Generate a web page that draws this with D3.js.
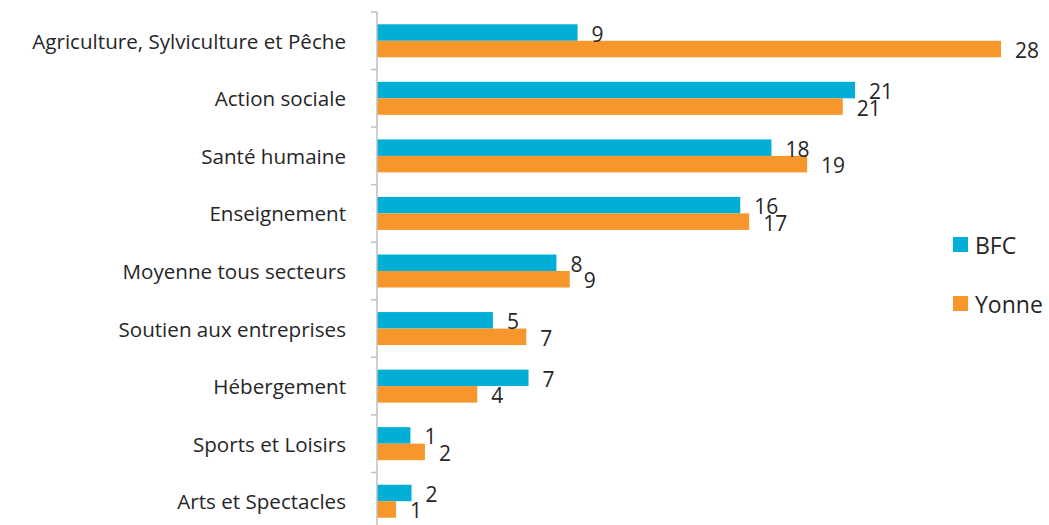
<!DOCTYPE html>
<html>
<head>
<meta charset="utf-8">
<script src="https://cdn.jsdelivr.net/npm/d3@7"></script>
<style>
  html, body { margin: 0; padding: 0; background: #fff; }
  svg { display: block; }
</style>
</head>
<body>
<svg id="chart" width="1049" height="525"></svg>
<script>
// categories, top to bottom
const categories = [
  'Agriculture, Sylviculture et Pêche',
  'Action sociale',
  'Santé humaine',
  'Enseignement',
  'Moyenne tous secteurs',
  'Soutien aux entreprises',
  'Hébergement',
  'Sports et Loisirs',
  'Arts et Spectacles'
];
const seriesNames = ['BFC', 'Yonne'];
// bar lengths and the labels printed next to them
const bfcValues = [9.0, 21.45, 17.7, 16.3, 8.05, 5.2, 6.8, 1.5, 1.55];
const yonneValues = [28.0, 20.9, 19.3, 16.7, 8.65, 6.7, 4.5, 2.15, 0.85];
const bfcLabels = ['9', '21', '18', '16', '8', '5', '7', '1', '2'];
const yonneLabels = ['28', '21', '19', '17', '9', '7', '4', '2', '1'];

const COLORS = { BFC: '#00AED6', Yonne: '#F7962B' };
const COLOR_AXIS = '#BFBFBF';
const COLOR_TEXT = '#262626';
const FONT = '"Open Sans", "Noto Sans", sans-serif';

const AXIS_X = 377;
const TOP = 12;
const BOTTOM = 530;
const X_MAX = 28;
const X_END = 1001;

const svg = d3.select('#chart');
const g = svg.append('g');

const x = d3.scaleLinear().domain([0, X_MAX]).range([AXIS_X, X_END]);
const y = d3.scaleBand().domain(categories).range([TOP, BOTTOM]).padding(0);
const ySub = d3.scaleBand().domain(seriesNames).range([0, y.bandwidth()])
  .paddingInner(0).paddingOuter(0.745);

const rows = categories.map((c, i) => ({
  cat: c,
  items: [
    { name: 'BFC', value: bfcValues[i], label: bfcLabels[i] },
    { name: 'Yonne', value: yonneValues[i], label: yonneLabels[i] }
  ]
}));

const groups = g.selectAll('g.row')
  .data(rows)
  .join('g')
  .attr('class', 'row')
  .attr('transform', d => `translate(0,${y(d.cat)})`);

groups.selectAll('rect')
  .data(d => d.items)
  .join('rect')
  .attr('x', x(0))
  .attr('y', d => ySub(d.name))
  .attr('width', d => x(d.value) - x(0))
  .attr('height', ySub.bandwidth())
  .attr('fill', d => COLORS[d.name]);

groups.selectAll('text.val')
  .data(d => d.items)
  .join('text')
  .attr('class', 'val')
  .attr('x', d => x(d.value) + 14)
  .attr('y', d => ySub(d.name) + ySub.bandwidth() / 2 + 1)
  .attr('dominant-baseline', 'central')
  .attr('font-family', FONT)
  .attr('font-size', 21)
  .attr('fill', COLOR_TEXT)
  .text(d => d.label);

// vertical axis with outer ticks between categories
const yAxis = g.append('g');
yAxis.append('line')
  .attr('x1', AXIS_X).attr('x2', AXIS_X)
  .attr('y1', TOP).attr('y2', BOTTOM)
  .attr('stroke', COLOR_AXIS)
  .attr('stroke-width', 1.5);

const tickYs = categories.map(c => y(c)).concat([BOTTOM]);
yAxis.selectAll('line.tick')
  .data(tickYs)
  .join('line')
  .attr('class', 'tick')
  .attr('x1', AXIS_X - 6).attr('x2', AXIS_X)
  .attr('y1', d => d).attr('y2', d => d)
  .attr('stroke', COLOR_AXIS)
  .attr('stroke-width', 1.5);

yAxis.selectAll('text.cat')
  .data(categories)
  .join('text')
  .attr('class', 'cat')
  .attr('x', 346)
  .attr('y', d => y(d) + y.bandwidth() / 2)
  .attr('text-anchor', 'end')
  .attr('dominant-baseline', 'central')
  .attr('font-family', FONT)
  .attr('font-size', 20.6)
  .attr('fill', COLOR_TEXT)
  .text(d => d);

// legend
const legend = g.append('g').attr('transform', 'translate(953,237)');
const legendItems = legend.selectAll('g')
  .data(seriesNames)
  .join('g')
  .attr('transform', (d, i) => `translate(0,${i * 59})`);
legendItems.append('rect')
  .attr('width', 15).attr('height', 15)
  .attr('fill', d => COLORS[d]);
legendItems.append('text')
  .attr('x', 22)
  .attr('y', 8)
  .attr('dominant-baseline', 'central')
  .attr('font-family', FONT)
  .attr('font-size', 23)
  .attr('fill', COLOR_TEXT)
  .text(d => d);
</script>
</body>
</html>
